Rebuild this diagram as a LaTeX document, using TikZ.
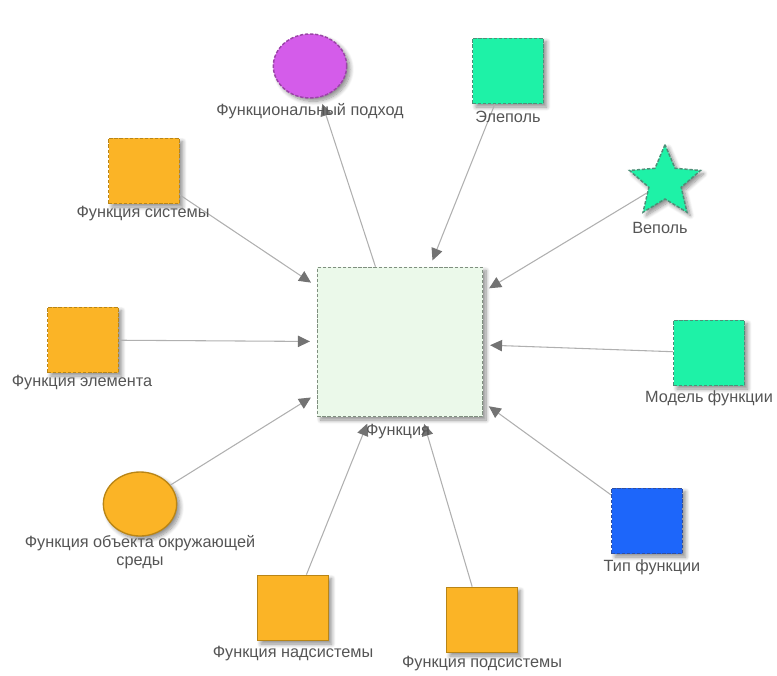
\documentclass[tikz,border=0pt]{standalone}
\usepackage{fontspec}
\setmainfont{Liberation Sans}
\usetikzlibrary{shapes.geometric,arrows.meta,shadows.blur}

\definecolor{orangefill}{HTML}{FBB426}
\definecolor{orangeline}{HTML}{B98516}
\definecolor{greenfill}{HTML}{1EF2A7}
\definecolor{greenline}{HTML}{4E8F78}
\definecolor{bluefill}{HTML}{1D66FA}
\definecolor{blueline}{HTML}{2F4FA0}
\definecolor{purplefill}{HTML}{D45CEA}
\definecolor{purpleline}{HTML}{9B45A8}
\definecolor{hubfill}{HTML}{EBF9EA}
\definecolor{hubline}{HTML}{7F8F7F}
\definecolor{labeltext}{HTML}{555555}
\definecolor{edgeline}{HTML}{B0B0B0}
\definecolor{tipcolor}{HTML}{737373}

\begin{document}
\begin{tikzpicture}[x=0.75pt,y=-0.75pt,
  shade/.style={blur shadow={shadow xshift=2.5pt,shadow yshift=-2.5pt,shadow blur steps=8,shadow blur radius=3pt,shadow opacity=45}},
  dashedborder/.style={line width=1.1pt,dash pattern=on 2.5pt off 1.3pt},
  hub/.style={rectangle,draw=hubline,fill=hubfill,dashedborder,minimum width=124pt,minimum height=112pt,inner sep=0pt,shade},
  squarebox/.style={rectangle,minimum width=53pt,minimum height=49pt,inner sep=0pt,shade},
  orangedash/.style={squarebox,fill=orangefill,draw=orangeline,dashedborder},
  orangesolid/.style={squarebox,fill=orangefill,draw=orangeline,line width=1pt},
  greendash/.style={squarebox,fill=greenfill,draw=greenline,dashedborder},
  bluedash/.style={squarebox,fill=bluefill,draw=blueline,dashedborder},
  roundnode/.style={ellipse,minimum width=55pt,minimum height=48pt,inner sep=0pt,shade},
  starnode/.style={star,star points=5,star point ratio=2.2,minimum size=56pt,inner sep=0pt,fill=greenfill,draw=greenline,dashedborder,shade},
  lbl/.style={font=\fontsize{12.2pt}{13.5pt}\selectfont,text=labeltext,inner sep=0pt,align=center},
  link/.style={draw=edgeline,line width=0.8pt,-{Triangle[length=9pt,width=8.5pt,color=tipcolor]},shorten >=5pt}
]
\useasboundingbox (0,0) rectangle (777,675);

% nodes
\node[hub] (fun) at (400,342) {};
\node[roundnode,fill=purplefill,draw=purpleline,dashedborder] (podhod) at (310,66) {};
\node[greendash] (elepol) at (508,71) {};
\node[starnode] (vepol) at (665,182) {};
\node[orangedash] (sys) at (144,171) {};
\node[orangedash] (elem) at (83,340) {};
\node[greendash] (model) at (709,353) {};
\node[roundnode,fill=orangefill,draw=orangeline,line width=1pt] (obj) at (140,504) {};
\node[bluedash] (tip) at (647,521) {};
\node[orangesolid] (nad) at (293,608) {};
\node[orangesolid] (pod) at (482,620) {};

% connectors
\draw[link] (fun) -- (podhod);
\draw[link] (elepol) -- (fun);
\draw[link] (vepol) -- (fun);
\draw[link] (sys) -- (fun);
\draw[link] (elem) -- (fun);
\draw[link] (model) -- (fun);
\draw[link] (obj) -- (fun);
\draw[link] (tip) -- (fun);
\draw[link] (nad) -- (fun);
\draw[link] (pod) -- (fun);

% labels
\node[lbl] (funL) at (398,432) {Функция};
\node[lbl] (podhodL) at (310,111) {Функциональный подход};
\node[lbl] (elepolL) at (508,117) {Элеполь};
\node[lbl] (vepolL) at (660,228) {Веполь};
\node[lbl] (sysL) at (143,214) {Функция системы};
\node[lbl] (elemL) at (82,383) {Функция элемента};
\node[lbl] (modelL) at (709,398) {Модель функции};
\node[lbl] (objL) at (140,552) {Функция объекта окружающей\\среды};
\node[lbl] (tipL) at (652,567) {Тип функции};
\node[lbl] (nadL) at (293,654) {Функция надсистемы};
\node[lbl] (podL) at (482,664) {Функция подсистемы};
\end{tikzpicture}
\end{document}
